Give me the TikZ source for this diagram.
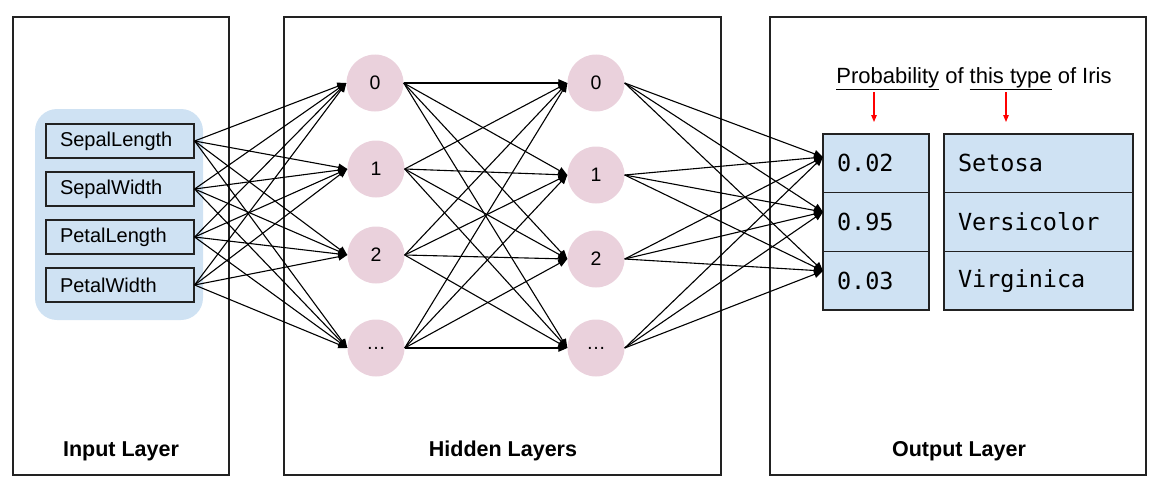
\documentclass[tikz,border=0pt]{standalone}
\usepackage{fontspec}
\setmainfont{Liberation Sans}
\newfontfamily\monofont{DejaVu Sans Mono}
\usetikzlibrary{arrows.meta}
\definecolor{lblue}{HTML}{CFE2F3}
\definecolor{lpink}{HTML}{EAD1DC}
\definecolor{frame}{HTML}{222222}
\tikzset{
  layerbox/.style={draw=frame, line width=1.2pt},
  feat/.style={draw=frame, line width=1.2pt, fill=lblue, minimum width=148pt, minimum height=34pt,
     text width=120pt, inner xsep=14pt, align=left, font=\fontsize{20}{22}\selectfont},
  neuron/.style={circle, fill=lpink, draw=none, minimum size=57pt, inner sep=0pt, font=\fontsize{19.5}{21}\selectfont},
  conn/.style={line width=1.1pt, -{Triangle[length=9pt,width=7.5pt]}},
  probcell/.style={draw=frame, line width=1.2pt, fill=lblue, minimum height=58.7pt,
     text width=78pt, inner xsep=14pt, align=left, font=\monofont\fontsize{23.5}{26}\selectfont},
  namecell/.style={draw=frame, line width=1.2pt, fill=lblue, minimum height=58.7pt,
     text width=161pt, inner xsep=14pt, align=left, font=\monofont\fontsize{23.5}{26}\selectfont},
  layertitle/.style={font=\bfseries\fontsize{21.5}{24}\selectfont},
  redarrow/.style={red, line width=1.1pt, -{Triangle[length=7pt,width=5.5pt]}}
}
\begin{document}
\begin{tikzpicture}[x=1pt,y=-1pt]
\useasboundingbox (0,0) rectangle (1166,495);
% layer frames
\draw[layerbox] (13,17) rectangle (229,475);
\draw[layerbox] (284,17) rectangle (721,475);
\draw[layerbox] (770,17) rectangle (1146,475);
\node[layertitle] (tin) at (121,451) {Input Layer};
\node[layertitle] (thid) at (503,451) {Hidden Layers};
\node[layertitle] (tout) at (959,451) {Output Layer};
% input group
\fill[lblue, rounded corners=22pt] (35,109) rectangle (203,320);
\node[feat] (i1) at (120,141) {SepalLength};
\node[feat] (i2) at (120,189) {SepalWidth};
\node[feat] (i3) at (120,237) {PetalLength};
\node[feat] (i4) at (120,285) {PetalWidth};
% hidden layer 1
\node[neuron] (a1) at (375,83) {0};
\node[neuron] (a2) at (376,169) {1};
\node[neuron] (a3) at (376,255) {2};
\node[neuron] (a4) at (376,348) {\dots};
% hidden layer 2
\node[neuron] (b1) at (596,83) {0};
\node[neuron] (b2) at (596,175) {1};
\node[neuron] (b3) at (596,259) {2};
\node[neuron] (b4) at (596,348) {\dots};
% output cells
\node[probcell] (p1) at (876,163.3) {0.02};
\node[probcell] (p2) at (876,222) {0.95};
\node[probcell] (p3) at (876,280.7) {0.03};
\node[namecell] (n1) at (1038.5,163.3) {Setosa};
\node[namecell] (n2) at (1038.5,222) {Versicolor};
\node[namecell] (n3) at (1038.5,280.7) {Virginica};
\coordinate (o1) at (823,157);
\coordinate (o2) at (823,212);
\coordinate (o3) at (823,271);
% connections
\foreach \s in {1,...,4}{
  \foreach \t in {1,...,4}{
    \draw[conn] (i\s.east) -- (a\t.west);
    \draw[conn] (a\s.east) -- (b\t.west);
  }
  \foreach \t in {1,2,3}{
    \draw[conn] (b\s.east) -- (o\t);
  }
}
% title
\node[font=\fontsize{22}{24}\selectfont] (title) at (974,79) {\underline{Probability} of \underline{this type} of Iris};
\coordinate (r1s) at (874,92);
\coordinate (r1e) at (874,122);
\coordinate (r2s) at (1006,92);
\coordinate (r2e) at (1006,122);
\draw[redarrow] (r1s) -- (r1e);
\draw[redarrow] (r2s) -- (r2e);
\end{tikzpicture}
\end{document}
